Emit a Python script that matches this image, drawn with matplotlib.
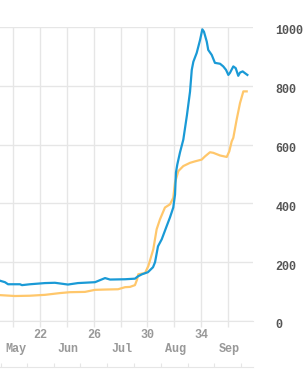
import matplotlib
matplotlib.use("Agg")
import matplotlib.pyplot as plt
import matplotlib.transforms as mtransforms

# week number (x) and values
blue_x = [19.0, 19.37, 19.6, 20.49, 20.64, 21.24, 22.36, 23.1, 24.07, 24.82, 26.09, 26.84,
          27.21, 28.33, 29.07, 29.3, 29.6, 30.04, 30.42, 30.57, 30.79, 31.07, 31.44, 31.69,
          31.93, 32.06, 32.13, 32.23, 32.43, 32.68, 32.95, 33.18, 33.31, 33.43, 33.68, 33.93,
          34.1, 34.22, 34.43, 34.54, 34.8, 35.04, 35.42, 35.66, 35.87, 36.04, 36.16, 36.41,
          36.59, 36.78, 36.91, 37.11, 37.28, 37.46]
blue_y = [137, 132, 125, 125, 122, 125, 129, 130, 124, 129, 132, 146,
          141, 142, 144, 152, 159, 166, 183, 200, 254, 278, 323, 353,
          386, 430, 505, 532, 573, 617, 700, 780, 854, 882, 912, 956,
          992, 984, 950, 922, 905, 878, 875, 866, 854, 837, 844, 866,
          860, 834, 845, 849, 843, 837]

orange_x = [19.0, 20.12, 21.24, 22.36, 23.48, 24.22, 25.34, 26.09, 26.84, 27.81, 28.33, 28.7,
            29.07, 29.22, 29.32, 29.82, 30.07, 30.44, 30.69, 30.94, 31.31, 31.69, 31.93, 32.06,
            32.31, 32.68, 33.18, 33.55, 34.05, 34.3, 34.67, 34.92, 35.42, 35.92, 36.11, 36.29,
            36.41, 36.66, 36.91, 37.16, 37.41]
orange_y = [88, 85, 86, 89, 95, 98, 99, 106, 107, 108, 115, 116,
            122, 140, 159, 163, 187, 244, 312, 346, 386, 397, 419, 471,
            510, 527, 538, 543, 549, 560, 574, 572, 563, 558, 577, 611,
            623, 685, 741, 781, 781]

week_ticks = [20, 22, 24, 26, 28, 30, 32, 34, 36]
week_labels = ["", "22", "", "26", "", "30", "", "34", ""]
month_pos = [20.2, 24.07, 28.1, 32.06, 36.1]
month_labels = ["May", "Jun", "Jul", "Aug", "Sep"]
y_ticks = [0, 200, 400, 600, 800, 1000]

W, H = 303, 369
fig = plt.figure(figsize=(W / 100, H / 100), dpi=100)
ax = fig.add_axes([0, (H - 321) / H, 253 / W, (321 - 27) / H])

grid_c = "#e6e6e6"
font = "Liberation Mono"

ax.plot(orange_x, orange_y, color="#ffc76b", lw=1.6, solid_joinstyle="round")
ax.plot(blue_x, blue_y, color="#1a9ad6", lw=1.6, solid_joinstyle="round")

ax.set_xlim(19.0, 37.88)
ax.set_ylim(0, 1000)

ax.set_xticks(week_ticks)
ax.set_xticklabels(week_labels)
ax.set_xticks(month_pos, minor=True)
ax.set_xticklabels(month_labels, minor=True)
ax.tick_params(axis="x", which="major", direction="out", length=4, width=1, color=grid_c,
               labelsize=8.5, labelcolor="#999999", pad=2)
ax.tick_params(axis="x", which="minor", length=0, labelsize=8.5, labelcolor="#999999", pad=16)
for lab in ax.get_xticklabels(which="both"):
    lab.set_fontfamily(font)
    lab.set_fontweight("bold")

ax.yaxis.tick_right()
ax.set_yticks(y_ticks)
ax.tick_params(axis="y", length=0, labelsize=8.5, labelcolor="#555555", pad=16)
shift = mtransforms.ScaledTranslation(0, -3 / 100, fig.dpi_scale_trans)
for lab in ax.get_yticklabels():
    lab.set_fontfamily(font)
    lab.set_fontweight("bold")
    lab.set_transform(lab.get_transform() + shift)

ax.grid(True, color=grid_c, lw=1)
ax.set_axisbelow(True)
for s in ["top", "right", "left"]:
    ax.spines[s].set_visible(False)
ax.spines["bottom"].set_color(grid_c)

# second faint axis line at the very bottom
ax2 = fig.add_axes([0, 2 / H, 253 / W, 0.01])
ax2.set_xlim(19.0, 37.88)
ax2.set_xticks([19.1, 21, 23, 25, 27, 29, 31, 33, 35, 37])
ax2.set_xticklabels([])
ax2.set_yticks([])
ax2.tick_params(axis="x", direction="in", length=3, color=grid_c)
for s in ["top", "right", "left"]:
    ax2.spines[s].set_visible(False)
ax2.spines["bottom"].set_color(grid_c)
ax2.patch.set_visible(False)

fig.savefig("out.png", dpi=100)
